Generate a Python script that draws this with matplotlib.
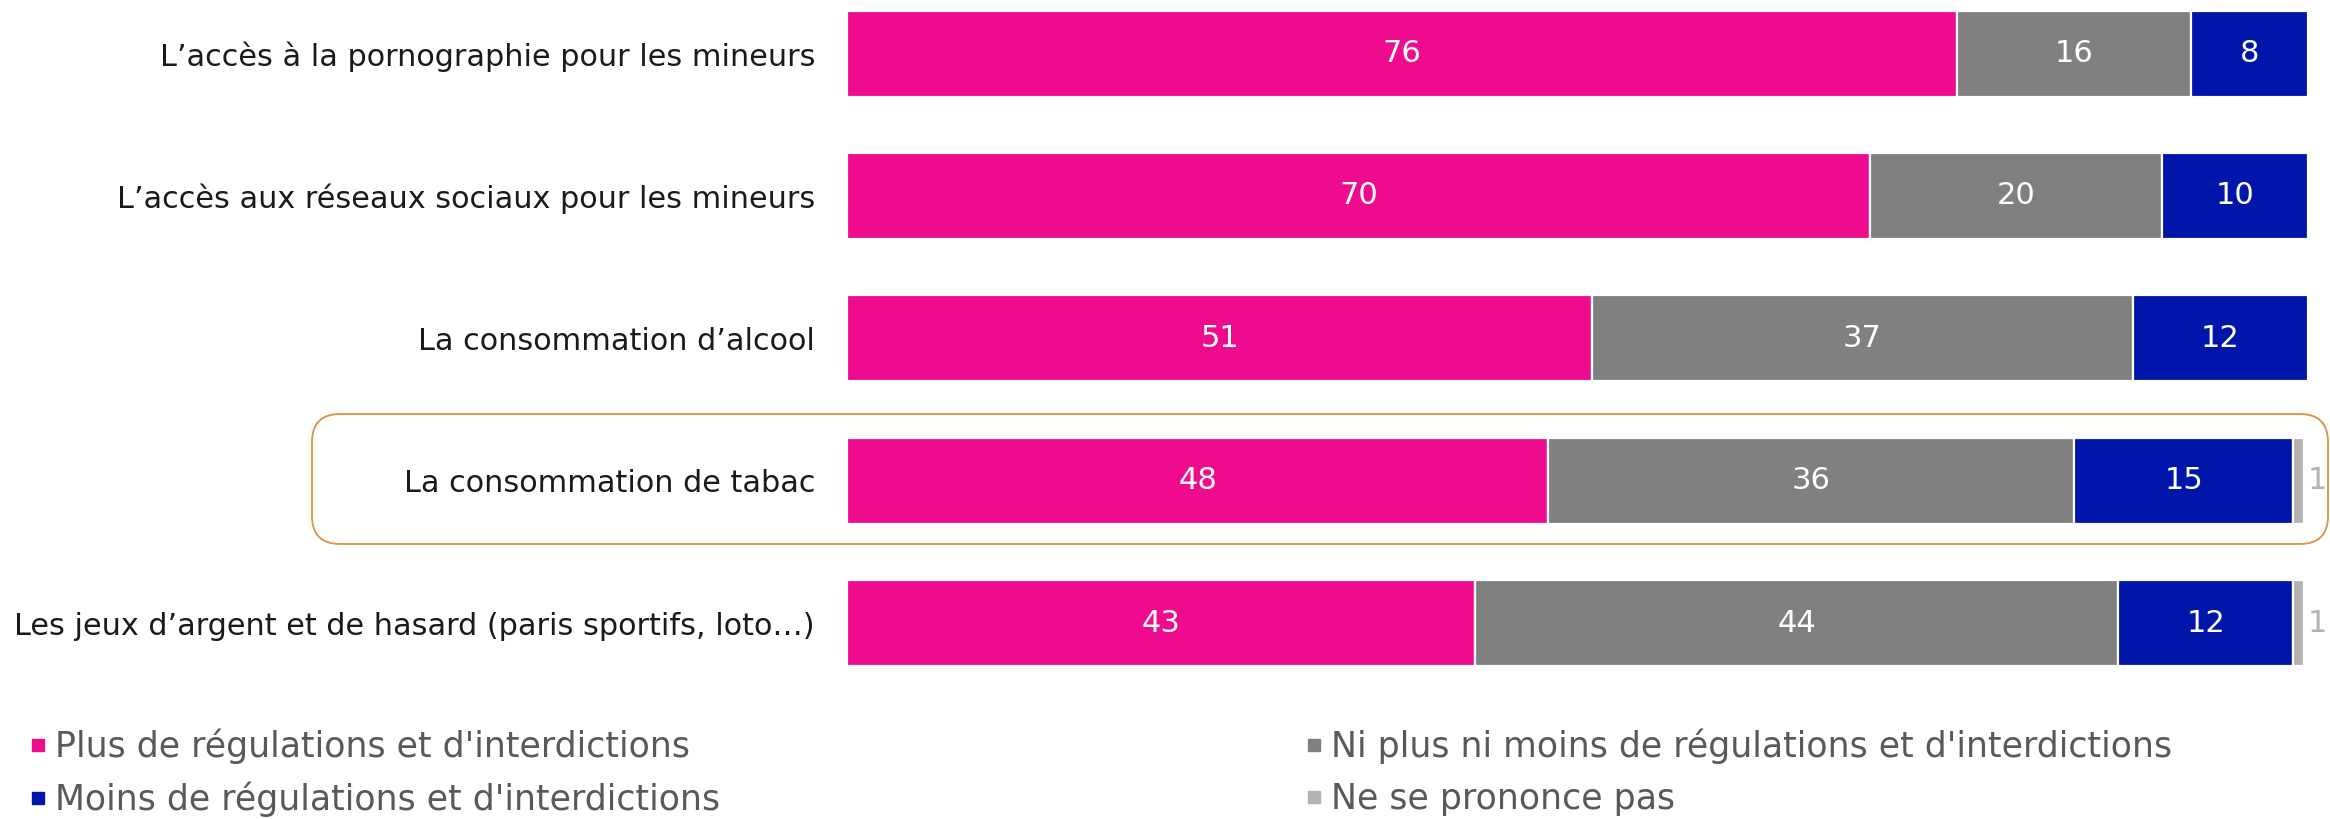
import matplotlib
matplotlib.use("Agg")
import matplotlib.pyplot as plt
from matplotlib.patches import FancyBboxPatch
from matplotlib.lines import Line2D
from matplotlib.transforms import IdentityTransform

categories = [
    "L\u2019accès à la pornographie pour les mineurs",
    "L\u2019accès aux réseaux sociaux pour les mineurs",
    "La consommation d\u2019alcool",
    "La consommation de tabac",
    "Les jeux d\u2019argent et de hasard (paris sportifs, loto\u2026)",
]
series_names = [
    "Plus de régulations et d'interdictions",
    "Ni plus ni moins de régulations et d'interdictions",
    "Moins de régulations et d'interdictions",
    "Ne se prononce pas",
]
plus = [76, 70, 51, 48, 43]
neutre = [16, 20, 37, 36, 44]
moins = [8, 10, 12, 15, 12]
nsp = [0, 0, 0, 1, 1]

colors = ["#EE0B8D", "#808080", "#0015AA", "#B3B3B3"]

W, H = 2330, 819
fig = plt.figure(figsize=(W / 100, H / 100), dpi=100)
plt.rcParams['font.family'] = ['DejaVu Sans']

ax = fig.add_axes([847 / W, 1 - 695 / H, 1 - 847 / W, 695 / H])
ax.patch.set_visible(False)
ypos = list(range(len(categories)))
bar_h = 0.604

series = [plus, neutre, moins, nsp]
lefts = [0] * len(categories)
for si, vals in enumerate(series):
    for i, v in enumerate(vals):
        if v <= 0:
            continue
        w = v if si < 3 else 0.7
        ax.barh(ypos[i], w, left=lefts[i], height=bar_h, color=colors[si],
                edgecolor="white", linewidth=1.6)
        if si < 3:
            ax.text(lefts[i] + v / 2, ypos[i], str(v), ha="center", va="center",
                    color="white", fontsize=22)
        else:
            ax.text(lefts[i] + 1.0, ypos[i], str(v), ha="left", va="center",
                    color="#B3B3B3", fontsize=22)
        lefts[i] += v

ax.set_xlim(0, 101.5)
ax.set_ylim(4.505, -0.376)
ax.set_yticks(ypos)
ax.set_yticklabels(categories, fontsize=21.8, color="#1A1A1A")
ax.tick_params(axis="y", length=0, pad=23)
ax.set_xticks([])
for s in ax.spines.values():
    s.set_visible(False)

# highlight box around "La consommation de tabac"
box = FancyBboxPatch((312, H - 544), 2016, 130,
                     boxstyle="round,pad=0,rounding_size=28",
                     transform=IdentityTransform(), fill=False,
                     edgecolor="#E0913A", linewidth=1.3, zorder=0)
fig.add_artist(box)

def handle(c):
    return Line2D([], [], marker="s", linestyle="none", markersize=8,
                  markerfacecolor=c, markeredgecolor=c)

leg_kw = dict(frameon=False, fontsize=25, labelcolor="#595959",
              handletextpad=0.05, handlelength=0.9, labelspacing=0.5,
              borderaxespad=0, borderpad=0)
leg1 = fig.legend([handle(colors[0]), handle(colors[2])],
                  [series_names[0], series_names[2]],
                  loc="upper left", bbox_to_anchor=(22 / W, 1 - 729 / H), **leg_kw)
leg2 = fig.legend([handle(colors[1]), handle(colors[3])],
                  [series_names[1], series_names[3]],
                  loc="upper left", bbox_to_anchor=(1298 / W, 1 - 729 / H), **leg_kw)

fig.savefig("out.png", dpi=100)
